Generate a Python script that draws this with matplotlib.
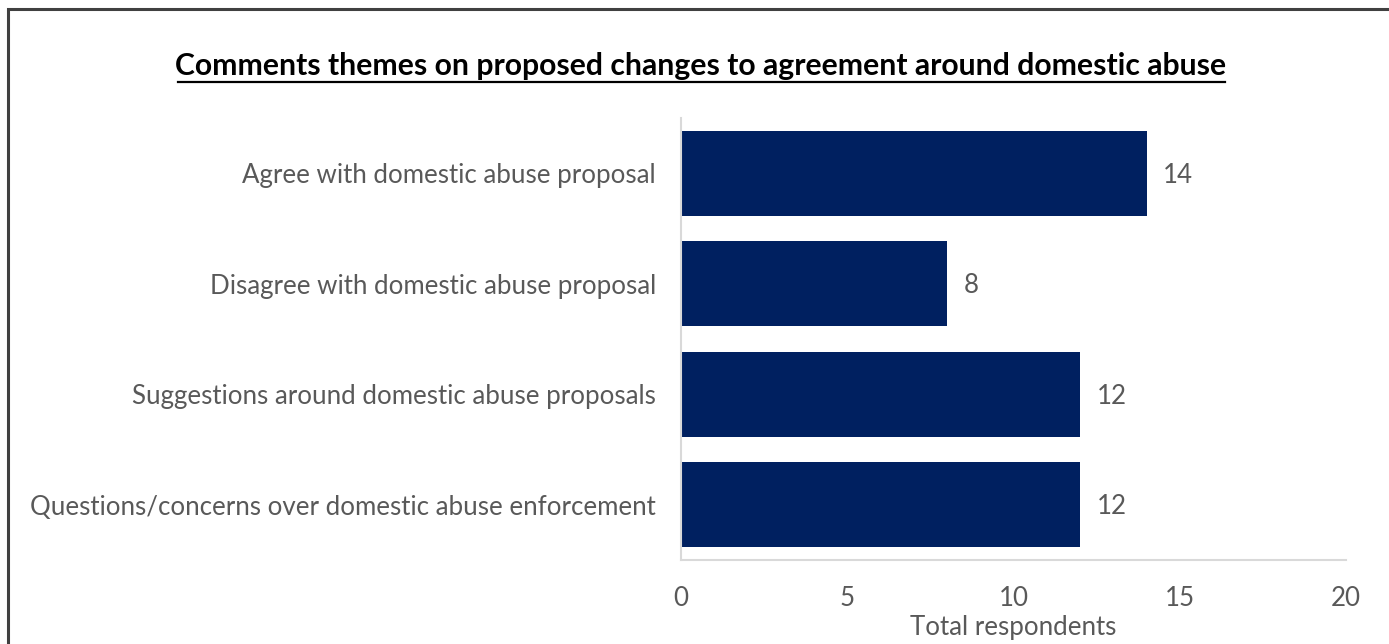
import matplotlib
matplotlib.use("Agg")
import matplotlib.pyplot as plt
from matplotlib.patches import Rectangle

categories = [
    "Agree with domestic abuse proposal",
    "Disagree with domestic abuse proposal",
    "Suggestions around domestic abuse proposals",
    "Questions/concerns over domestic abuse enforcement",
]
values = [14, 8, 12, 12]
x_ticks = [0, 5, 10, 15, 20]
title = "Comments themes on proposed changes to agreement around domestic abuse"
x_label = "Total respondents"

plt.rcParams['font.family'] = ['Lato', 'DejaVu Sans']
W, H = 1389, 644
fig = plt.figure(figsize=(W / 100, H / 100), dpi=100)
ax = fig.add_axes([681 / W, 1 - 560 / H, (1346 - 681) / W, (560 - 118) / H])

text_col = "#595959"
bar_col = "#002060"
fs = 18.6
ypos = list(range(len(categories)))
ax.barh(ypos, values, height=0.77, color=bar_col)
ax.set_ylim(len(categories) - 0.5, -0.5)
ax.set_xlim(0, 20)
ax.set_xticks(x_ticks)
ax.set_yticks(ypos)
ax.set_yticklabels(categories)
ax.tick_params(axis='both', length=0, colors=text_col, labelsize=fs)
ax.tick_params(axis='y', pad=18)
ax.tick_params(axis='x', pad=19)
for s in ['top', 'right']:
    ax.spines[s].set_visible(False)
for s in ['left', 'bottom']:
    ax.spines[s].set_color("#d9d9d9")
    ax.spines[s].set_linewidth(1.5)

for y, v in zip(ypos, values):
    ax.text(v + 0.5, y + 0.02, str(v), va='center', ha='left', color=text_col, fontsize=fs)

ax.set_xlabel(x_label, color=text_col, fontsize=fs)
ax.xaxis.set_label_coords((1013 - 681) / (1346 - 681), -(628 - 560) / (560 - 118))
ax.xaxis.label.set_va('center')

fig.text(701 / W, 1 - 66 / H, title, ha='center', va='center',
         fontsize=21.7, fontweight='bold', color='black')
# underline
fig.add_artist(plt.Line2D([178 / W, 1225 / W], [1 - 82 / H, 1 - 82 / H],
                          color='black', lw=1.6, transform=fig.transFigure))

fig.add_artist(Rectangle((8 / W, -0.1), 1.2, 1 - 9.5 / H + 0.1,
                         transform=fig.transFigure, fill=False,
                         edgecolor="#404040", lw=2.2))

fig.savefig("out.png", dpi=100)
